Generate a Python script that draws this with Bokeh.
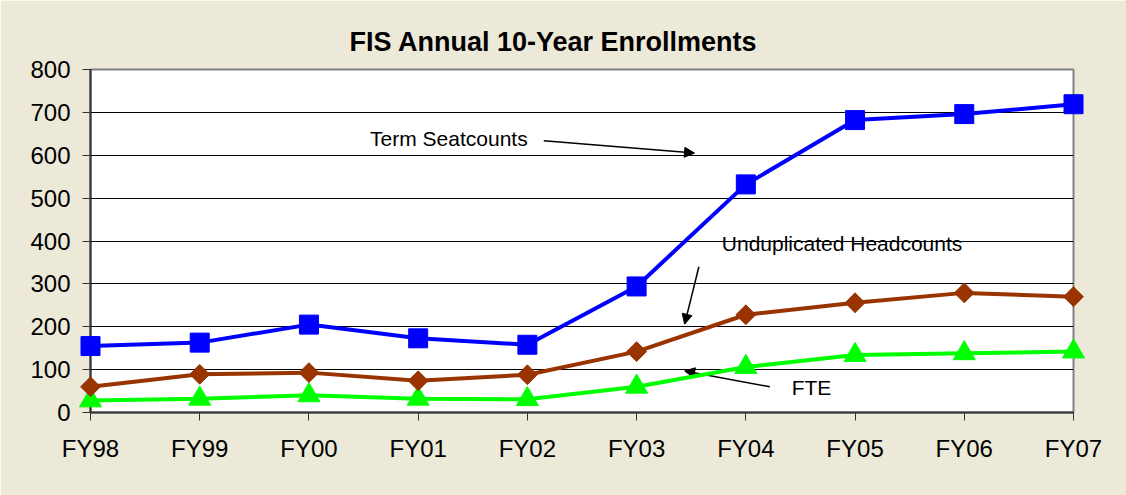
from bokeh.plotting import figure
from bokeh.models import Range1d, FixedTicker, Label, Arrow, NormalHead, ColumnDataSource
from bokeh.embed import file_html
from bokeh.resources import INLINE
import math

categories = ["FY98", "FY99", "FY00", "FY01", "FY02", "FY03", "FY04", "FY05", "FY06", "FY07"]
term_seatcounts = [155, 163, 205, 173, 158, 294, 532, 682, 696, 719]
unduplicated_headcounts = [60, 89, 93, 74, 88, 142, 228, 256, 279, 270]
fte = [28, 32, 40, 32, 31, 60, 106, 134, 138, 142]
y_ticks = [0, 100, 200, 300, 400, 500, 600, 700, 800]

x = list(range(len(categories)))
src = ColumnDataSource(dict(x=x, ts=term_seatcounts, uh=unduplicated_headcounts, fte=fte))

BG = "#ECE9D8"
FONT = "Liberation Sans"

p = figure(width=1126, height=495, output_backend="svg", toolbar_location=None,
           x_range=Range1d(0, len(categories) - 1), y_range=Range1d(0, 800),
           min_border_left=90, min_border_right=53, min_border_top=69, min_border_bottom=83)
p.background_fill_color = "white"
p.border_fill_color = BG
p.outline_line_color = "#808080"
p.outline_line_width = 2

p.title.text = "FIS Annual 10-Year Enrollments"
p.title.align = "left"
p.title.offset = 259
p.title.standoff = 26
p.title.text_font = FONT
p.title.text_font_size = "27px"
p.title.text_font_style = "bold"
p.title.text_color = "black"

p.xaxis.ticker = FixedTicker(ticks=x)
p.xaxis.major_label_overrides = {i: c for i, c in enumerate(categories)}
p.yaxis.ticker = FixedTicker(ticks=y_ticks)
for ax in (p.xaxis, p.yaxis):
    ax.major_label_text_font = FONT
    ax.major_label_text_font_size = "24px"
    ax.major_label_text_color = "black"
    ax.axis_line_color = "#333333"
    ax.axis_line_width = 2
    ax.major_tick_line_color = "#333333"
    ax.major_tick_line_width = 1
    ax.major_tick_out = 8
    ax.major_tick_in = 0
    ax.minor_tick_line_color = None
p.yaxis.major_label_standoff = 12
p.xaxis.major_label_standoff = 14
p.xgrid.grid_line_color = None
p.ygrid.grid_line_color = "black"
p.ygrid.grid_line_width = 1
p.ygrid.ticker = FixedTicker(ticks=y_ticks[1:-1])

# series
p.line("x", "fte", source=src, line_color="#00FF00", line_width=4, level="overlay")
p.triangle("x", "fte", source=src, size=22, fill_color="#00FF00", line_color="#00FF00", level="overlay")
p.line("x", "uh", source=src, line_color="#993300", line_width=4, level="overlay")
p.scatter("x", "uh", source=src, marker="square", angle=math.pi / 4, size=14,
          fill_color="#993300", line_color="#993300", level="overlay")
p.line("x", "ts", source=src, line_color="#0000FF", line_width=4, level="overlay")
p.scatter("x", "ts", source=src, marker="square", size=19, fill_color="#0000FF",
          line_color="#0000FF", level="overlay")

# annotations
def note(txt, tx, ty, x0, y0, x1, y1):
    p.add_layout(Label(x=tx, y=ty, text=txt, text_align="left", text_baseline="middle",
                       text_font=FONT, text_font_size="21px", text_color="black"))
    p.add_layout(Arrow(x_start=x0, y_start=y0, x_end=x1, y_end=y1, line_color="black",
                       line_width=1.5,
                       end=NormalHead(size=10, fill_color="black", line_color="black", line_width=1)))

note("Term Seatcounts", 2.56, 639, 4.15, 634, 5.53, 605)
note("Unduplicated Headcounts", 5.78, 394, 5.57, 340, 5.44, 206)
note("FTE", 6.42, 58, 6.22, 60, 5.44, 97)

open("out.html", "w").write(file_html(p, INLINE))
